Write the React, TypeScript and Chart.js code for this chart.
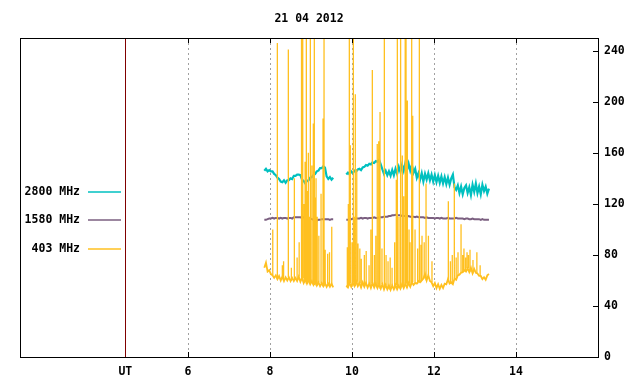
import React, { useEffect, useRef } from 'react';
import { Chart, registerables } from 'chart.js';

Chart.register(...registerables);

const TITLE = '21 04 2012';
const X_MIN = 1.9;
const X_MAX = 16;
const Y_MIN = 0;
const Y_MAX = 250;
const UT_MARK = 4.47;
const X_TICK_VALUES = [4.47, 6, 8, 10, 12, 14];
const X_TICK_LABELS = ['UT', '6', '8', '10', '12', '14'];
const Y_TICK_VALUES = [0, 40, 80, 120, 160, 200, 240];

const SERIES_NAMES = ['2800 MHz', '1580 MHz', '403 MHz'];
const SERIES_COLORS = ['#00c0c0', '#7b5f80', '#ffc020'];

// sample times (UT hours)
const T_SEG1 = [
  7.86, 7.90, 7.94, 7.98, 8.02, 8.06, 8.10, 8.14, 8.18, 8.22,
  8.26, 8.30, 8.34, 8.38, 8.42, 8.46, 8.50, 8.54, 8.58, 8.62,
  8.66, 8.70, 8.74, 8.78, 8.82, 8.86, 8.90, 8.94, 8.98, 9.02,
  9.06, 9.10, 9.14, 9.18, 9.22, 9.26, 9.30, 9.34, 9.38, 9.42,
  9.46, 9.50, 9.54,
];
const T_SEG2 = [
  9.86, 9.90, 9.94, 9.98, 10.02, 10.06, 10.10, 10.14, 10.18, 10.22,
  10.26, 10.30, 10.34, 10.38, 10.42, 10.46, 10.50, 10.54, 10.58, 10.62,
  10.66, 10.70, 10.74, 10.78, 10.82, 10.86, 10.90, 10.94, 10.98, 11.02,
  11.06, 11.10, 11.14, 11.18, 11.22, 11.26, 11.30, 11.34, 11.38, 11.42,
  11.46, 11.50, 11.54, 11.58, 11.62, 11.66, 11.70, 11.74, 11.78, 11.82,
  11.86, 11.90, 11.94, 11.98, 12.02, 12.06, 12.10, 12.14, 12.18, 12.22,
  12.26, 12.30, 12.34, 12.38, 12.42, 12.46, 12.50, 12.54, 12.58, 12.62,
  12.66, 12.70, 12.74, 12.78, 12.82, 12.86, 12.90, 12.94, 12.98, 13.02,
  13.06, 13.10, 13.14, 13.18, 13.22, 13.26, 13.30, 13.34,
];

// 2800 MHz flux
const F2800_SEG1 = [
  146, 147.5, 145.5, 146.5, 145.5, 145.5, 143.5, 142.5, 140.5, 139.5,
  137.5, 137, 138.5, 136.5, 138.5, 138.5, 140, 139.5, 142, 142,
  143, 143, 142.5, 139, 138, 136, 138, 138.5, 140.5, 141,
  142.5, 143.5, 145.5, 146, 148, 148, 149.5, 148.5, 141.5, 139.5,
  141, 139, 140.5,
];
const F2800_SEG2 = [
  143, 144.5, 143, 145.5, 144, 146, 145.5, 147, 147.5, 146.5,
  148.5, 149, 150.5, 150, 151.5, 151, 152.5, 152, 153.5, 153,
  154.5, 151,
  147, 143.5, 146, 142.5, 145.5, 142, 146.5, 142.5, 147.5, 143.5,
  149, 145, 150.5, 146, 152, 146.5, 151.5, 146, 150.5, 144.5,
  147.5, 140.5, 144, 139, 144, 137.5, 143.5, 139, 144, 138.5,
  143, 137.5, 142.5, 137, 142, 136.5, 141.5, 136, 141, 135.5,
  140.5, 135, 140,
  143,
  133, 131, 134.5, 128.5, 133.5, 127.5, 132.5, 134.5, 128.5, 133,
  127, 135, 129.5, 136, 128.5, 133.5, 127.5, 135, 130, 133.5,
  128, 132,
];

// 1580 MHz flux
const F1580_SEG1 = [
  107.5, 107.5, 108, 108.5, 108.5, 109, 108.5, 109, 109, 108.5,
  109, 108.5, 109, 109, 108.5, 109, 109, 108.5, 109.5, 109.5,
  109.5, 109.5, 109.5, 109, 109.5, 108.5, 108.5, 108, 108.5, 108,
  107.5, 107, 107, 107.5, 107.5, 108, 108, 108, 108, 108,
  107.5, 108, 108,
];
const F1580_SEG2 = [
  107.5, 107.5, 108, 108, 108.5, 108, 108.5, 108.5, 108.5, 109,
  108.5, 109, 109, 108.5, 109, 109, 109, 109.5, 109, 109,
  109.5, 109.5, 109.5, 110, 110, 110, 110.5, 110.5, 111, 111,
  111.5, 111, 111, 111, 110.5, 110.5, 110.5, 110, 110.5, 110,
  110, 110, 109.5, 110, 109.5, 109.5, 109.5, 109.5, 109, 109.5,
  109, 109, 109, 109, 108.5, 109, 109, 108.5, 109, 108.5,
  108.5, 108.5, 109, 108.5, 108.5, 108.5, 108.5, 109, 108.5, 108.5,
  108.5, 108.5, 108, 108.5, 108.5, 108, 108, 108.5, 108, 108,
  108, 108, 107.5, 108, 107.5, 107.5, 107.5, 107.5,
];

// 403 MHz flux (background level)
const F403_SEG1 = [
  70, 74, 67, 68, 65, 64, 62, 64, 61, 63.5,
  60, 63, 59.5, 62.5, 60, 62.5, 59.5, 62, 59.5, 62,
  59.5, 63, 59, 62, 58, 61, 57.5, 60.5, 57, 59.5,
  56.5, 59, 56, 58.5, 55.5, 58, 55.5, 58, 55, 57.5,
  55, 57.5, 54.5,
];
const F403_SEG2 = [
  56, 54.5, 58, 55, 58.5, 55.5, 59, 55.5, 58, 54.5,
  58.5, 55, 58, 54.5, 57.5, 54, 58, 54.5, 57.5, 54,
  57, 53.5, 57, 53, 56.5, 53, 56, 52.5, 56, 53,
  56.5, 53, 56, 53.5, 57, 54, 57.5, 54.5, 58, 55,
  58.5, 56.5, 58, 57.5, 59.5, 58.5, 60, 61.5, 65, 60,
  64, 59.5, 58.5, 55.5, 58, 54, 57, 53.5, 56.5, 54,
  57.5, 57, 61, 57.5, 58.5, 57, 61.5, 60.5, 64, 64.5,
  66, 66.5, 68, 67, 69.5, 66.5, 70, 65.5, 69, 66,
  65.5, 63.5, 63.5, 61, 62.5, 60.5, 64, 65,
];

// 403 MHz bursts (time, peak flux)
const BURST_T = [
  8.066, 8.178, 8.30, 8.33, 8.446, 8.52, 8.593, 8.66, 8.71, 8.768,
  8.797, 8.83, 8.855, 8.885, 8.91, 8.934, 8.96, 8.983, 9.02, 9.056,
  9.08, 9.10, 9.122, 9.15, 9.19, 9.244, 9.293, 9.317, 9.345, 9.405,
  9.45, 9.505,
  9.885, 9.91, 9.934, 9.958, 10.0, 10.032, 10.06, 10.08, 10.115, 10.145,
  10.19, 10.225, 10.30, 10.345, 10.415, 10.46, 10.495, 10.545, 10.58, 10.615,
  10.651, 10.683, 10.73, 10.788, 10.83, 10.878, 10.93, 10.976, 11.04, 11.08,
  11.105, 11.145, 11.185, 11.227, 11.26, 11.297, 11.317, 11.349, 11.39, 11.415,
  11.455, 11.48, 11.537, 11.60, 11.642, 11.68, 11.707, 11.76, 11.805, 11.863,
  11.95, 12.349, 12.40, 12.445, 12.495, 12.54, 12.585, 12.659, 12.70, 12.73,
  12.77, 12.805, 12.84, 12.878, 12.95, 13.045, 13.125,
];
const BURST_V = [
  100, 246, 72, 75, 241, 70, 140, 78, 90, 300,
  300, 120, 153, 300, 130, 160, 110, 300, 150, 183,
  300, 125, 140, 110, 95, 128, 187, 300, 84, 81,
  82, 102,
  86, 120, 300, 166, 90, 300, 110, 206, 147, 89,
  85, 77, 80, 83, 72, 100, 225, 80, 95, 167,
  169, 192, 85, 300, 80, 75, 78, 70, 90, 139,
  300, 110, 300, 158, 126, 300, 300, 201, 100, 90,
  300, 189, 100, 85, 300, 88, 95, 90, 136, 95,
  75, 122, 75, 80, 136, 78, 82, 104, 80, 85,
  78, 82, 80, 84, 76, 82, 72,
];

const FONT = { family: "'DejaVu Sans Mono', monospace", size: 11.5, weight: 'bold' as const };
const FONT_CSS = "bold 11.5px 'DejaVu Sans Mono', monospace";

type P = { x: number; y: number | null };

function segPoints(ts: number[], vs: number[]): P[] {
  return ts.map((t, i) => ({ x: t, y: vs[i] }));
}

function joinSegments(a: P[], b: P[]): P[] {
  const gap = (a[a.length - 1].x + b[0].x) / 2;
  return [...a, { x: gap, y: null }, ...b];
}

// vertical burst strokes rising from the nearest background sample
function burstStrokes(ts: number[], vs: number[], bt: number[], bv: number[]): P[] {
  const out: P[] = [];
  const t0 = ts[0];
  const t1 = ts[ts.length - 1];
  bt.forEach((t, i) => {
    if (t < t0 || t > t1) return;
    let j = 0;
    let best = Infinity;
    ts.forEach((s, k) => {
      const d = Math.abs(s - t);
      if (d < best) {
        best = d;
        j = k;
      }
    });
    out.push({ x: t, y: vs[j] }, { x: t, y: bv[i] }, { x: t, y: null });
  });
  return out;
}

const framePlugin = {
  id: 'gnuFrame',
  beforeDatasetsDraw(chart: any) {
    const { ctx, chartArea: a, scales } = chart;
    const xs = scales.x;
    ctx.save();
    ctx.lineWidth = 1;
    ctx.strokeStyle = '#a0a0a0';
    ctx.setLineDash([2, 3]);
    X_TICK_VALUES.forEach((v) => {
      if (v === UT_MARK) return;
      const px = Math.round(xs.getPixelForValue(v)) + 0.5;
      ctx.beginPath();
      ctx.moveTo(px, a.top);
      ctx.lineTo(px, a.bottom);
      ctx.stroke();
    });
    ctx.setLineDash([]);
    ctx.strokeStyle = '#800000';
    const ux = Math.round(xs.getPixelForValue(UT_MARK)) + 0.5;
    ctx.beginPath();
    ctx.moveTo(ux, a.top);
    ctx.lineTo(ux, a.bottom);
    ctx.stroke();
    ctx.restore();
  },
  afterDatasetsDraw(chart: any) {
    const { ctx, chartArea: a, scales } = chart;
    const xs = scales.x;
    const ys = scales.y;
    ctx.save();
    ctx.lineWidth = 1;
    ctx.strokeStyle = '#000';
    ctx.setLineDash([]);
    ctx.beginPath();
    X_TICK_VALUES.forEach((v) => {
      if (v === UT_MARK) return;
      const px = Math.round(xs.getPixelForValue(v)) + 0.5;
      ctx.moveTo(px, a.top);
      ctx.lineTo(px, a.top + 5);
      ctx.moveTo(px, a.bottom);
      ctx.lineTo(px, a.bottom - 5);
    });
    Y_TICK_VALUES.forEach((v) => {
      const py = Math.round(ys.getPixelForValue(v)) + 0.5;
      ctx.moveTo(a.right, py);
      ctx.lineTo(a.right - 5, py);
    });
    ctx.stroke();
    ctx.strokeRect(Math.round(a.left) + 0.5, Math.round(a.top) + 0.5, Math.round(a.right - a.left), Math.round(a.bottom - a.top));
    ctx.fillStyle = '#000';
    ctx.font = FONT_CSS;
    ctx.textAlign = 'center';
    ctx.textBaseline = 'middle';
    ctx.fillText(TITLE, (a.left + a.right) / 2, 19);
    const legendY = [192, 220, 249];
    [0, 1, 2].forEach((i) => {
      const y = legendY[i];
      ctx.textAlign = 'right';
      ctx.fillStyle = '#000';
      ctx.fillText(SERIES_NAMES[i], 80, y);
      ctx.strokeStyle = SERIES_COLORS[i];
      ctx.lineWidth = 1.5;
      ctx.beginPath();
      ctx.moveTo(88, y);
      ctx.lineTo(121, y);
      ctx.stroke();
    });
    ctx.restore();
  },
};

export default function App() {
  const ref = useRef<HTMLCanvasElement | null>(null);

  useEffect(() => {
    if (!ref.current) return;
    const d2800 = joinSegments(segPoints(T_SEG1, F2800_SEG1), segPoints(T_SEG2, F2800_SEG2));
    const d1580 = joinSegments(segPoints(T_SEG1, F1580_SEG1), segPoints(T_SEG2, F1580_SEG2));
    const d403 = joinSegments(segPoints(T_SEG1, F403_SEG1), segPoints(T_SEG2, F403_SEG2));
    const d403b = [
      ...burstStrokes(T_SEG1, F403_SEG1, BURST_T, BURST_V),
      ...burstStrokes(T_SEG2, F403_SEG2, BURST_T, BURST_V),
    ];
    const chart = new Chart(ref.current, {
      type: 'line',
      data: {
        datasets: [
          { label: SERIES_NAMES[2] + ' bursts', data: d403b as any, borderColor: SERIES_COLORS[2], borderWidth: 1.3, spanGaps: false },
          { label: SERIES_NAMES[2], data: d403 as any, borderColor: SERIES_COLORS[2], borderWidth: 1.8, spanGaps: false },
          { label: SERIES_NAMES[1], data: d1580 as any, borderColor: SERIES_COLORS[1], borderWidth: 2, spanGaps: false },
          { label: SERIES_NAMES[0], data: d2800 as any, borderColor: SERIES_COLORS[0], borderWidth: 2.2, spanGaps: false },
        ],
      },
      options: {
        responsive: false,
        animation: false,
        devicePixelRatio: 1,
        layout: { padding: { left: 20, top: 38, right: 0, bottom: 0 } },
        plugins: {
          legend: { display: false },
          title: { display: false },
          tooltip: { enabled: false },
        },
        elements: {
          point: { radius: 0, hoverRadius: 0 },
          line: { tension: 0, fill: false },
        },
        scales: {
          x: {
            type: 'linear',
            min: X_MIN,
            max: X_MAX,
            grid: { display: false, drawTicks: false },
            border: { display: false },
            afterBuildTicks: (s: any) => {
              s.ticks = X_TICK_VALUES.map((v) => ({ value: v }));
            },
            afterFit: (s: any) => {
              s.height = 27;
            },
            ticks: {
              autoSkip: false,
              maxRotation: 0,
              padding: 8,
              color: '#000',
              font: FONT,
              callback: (_v: any, i: number) => X_TICK_LABELS[i],
            },
          },
          y: {
            type: 'linear',
            position: 'right',
            min: Y_MIN,
            max: Y_MAX,
            grid: { display: false, drawTicks: false },
            border: { display: false },
            afterBuildTicks: (s: any) => {
              s.ticks = Y_TICK_VALUES.map((v) => ({ value: v }));
            },
            afterFit: (s: any) => {
              s.width = 42;
            },
            ticks: {
              padding: 6,
              color: '#000',
              font: FONT,
              callback: (v: any) => String(v),
            },
          },
        },
      },
      plugins: [framePlugin],
    });
    return () => chart.destroy();
  }, []);

  return (
    <div style={{ position: 'fixed', left: 0, top: 0, width: 640, height: 384, background: '#fff' }}>
      <canvas ref={ref} width={640} height={384} style={{ display: 'block' }} />
    </div>
  );
}
